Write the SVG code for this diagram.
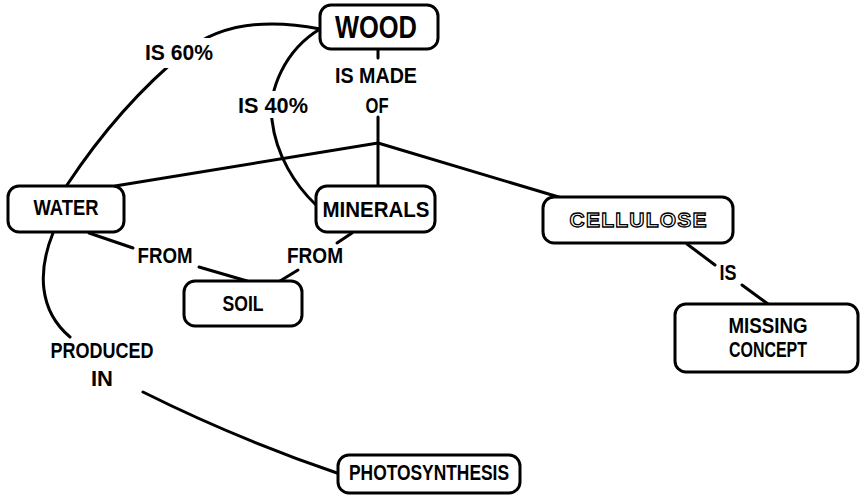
<svg xmlns="http://www.w3.org/2000/svg" width="860" height="498" viewBox="0 0 860 498">
  <style>
    .box { fill: #fff; stroke: #000; stroke-width: 3; }
    .link { fill: none; stroke: #000; stroke-width: 3; stroke-linecap: round; }
    .t { font-family: "Liberation Sans", Arial, sans-serif; font-weight: bold; font-size: 22px; fill: #000; text-anchor: middle; }
    .big { font-size: 31px; }
    .hollow { fill: #fff; stroke: #000; stroke-width: 1.3; font-size: 21px; }
    .knock { fill: #fff; }
  </style>
  <rect width="860" height="498" fill="#fff"/>

  <!-- connectors -->
  <g id="connectors">
    <path class="link" d="M378,49 V58"/>
    <path class="link" d="M378,117 V186"/>
    <path class="link" d="M378,143 L115,186"/>
    <path class="link" d="M378,143 L562,198"/>
    <path class="link" d="M67,185 Q120,105 185,52 Q234,12 320,29"/>
    <path class="link" d="M320,29 C285,50 268,90 272,120 C276,155 295,185 316,205"/>
    <path class="link" d="M89,233 L133,248"/>
    <path class="link" d="M199,267 L247,281"/>
    <path class="link" d="M352,233 L337,243"/>
    <path class="link" d="M298,270 L280,281"/>
    <path class="link" d="M687,244 L715,265"/>
    <path class="link" d="M742,285 L768,304"/>
    <path class="link" d="M53,233 C38,270 38,310 70,337"/>
    <path class="link" d="M143,392 Q235,438 337,473"/>
  </g>

  <!-- link labels -->
  <g id="label-is-made-of">
    <text class="t" x="376" y="83" font-size="24" textLength="82" lengthAdjust="spacingAndGlyphs">IS MADE</text>
    <text class="t" x="377" y="113" font-size="24" textLength="23" lengthAdjust="spacingAndGlyphs">OF</text>
  </g>
  <g id="label-is-60">
    <rect class="knock" x="140" y="38" width="80" height="30"/>
    <text class="t" x="179" y="60" textLength="68" lengthAdjust="spacingAndGlyphs">IS 60%</text>
  </g>
  <g id="label-is-40">
    <rect class="knock" x="236" y="91" width="76" height="27"/>
    <text class="t" x="273" y="113" textLength="70" lengthAdjust="spacingAndGlyphs">IS 40%</text>
  </g>
  <g id="label-from-water">
    <text class="t" x="165" y="263" textLength="55" lengthAdjust="spacingAndGlyphs">FROM</text>
  </g>
  <g id="label-from-minerals">
    <text class="t" x="315" y="263" textLength="56" lengthAdjust="spacingAndGlyphs">FROM</text>
  </g>
  <g id="label-is">
    <text class="t" x="728" y="280" textLength="17" lengthAdjust="spacingAndGlyphs">IS</text>
  </g>
  <g id="label-produced-in">
    <text class="t" x="102" y="358" textLength="103" lengthAdjust="spacingAndGlyphs">PRODUCED</text>
    <text class="t" x="102" y="386" textLength="22" lengthAdjust="spacingAndGlyphs">IN</text>
  </g>

  <!-- concept nodes -->
  <g id="node-wood">
    <rect class="box" x="320" y="5" width="118" height="44" rx="11"/>
    <text class="t big" x="376" y="38" textLength="82" lengthAdjust="spacingAndGlyphs">WOOD</text>
  </g>
  <g id="node-water">
    <rect class="box" x="8" y="186" width="116" height="46" rx="11"/>
    <text class="t" x="66" y="215" textLength="65" lengthAdjust="spacingAndGlyphs">WATER</text>
  </g>
  <g id="node-minerals">
    <rect class="box" x="316" y="186" width="119" height="46" rx="11"/>
    <text class="t" x="376" y="217" textLength="107" lengthAdjust="spacingAndGlyphs">MINERALS</text>
  </g>
  <g id="node-soil">
    <rect class="box" x="184" y="281" width="118" height="45" rx="11"/>
    <text class="t" x="243" y="311" textLength="41" lengthAdjust="spacingAndGlyphs">SOIL</text>
  </g>
  <g id="node-cellulose">
    <rect class="box" x="543" y="197" width="190" height="46" rx="11"/>
    <text class="t hollow" x="638" y="227" textLength="137" lengthAdjust="spacing">CELLULOSE</text>
  </g>
  <g id="node-missing-concept">
    <rect class="box" x="675" y="304" width="183" height="68" rx="11"/>
    <text class="t" x="768" y="333" textLength="79" lengthAdjust="spacingAndGlyphs">MISSING</text>
    <text class="t" x="768" y="357" textLength="78" lengthAdjust="spacingAndGlyphs">CONCEPT</text>
  </g>
  <g id="node-photosynthesis">
    <rect class="box" x="338" y="455" width="182" height="38" rx="11"/>
    <text class="t" x="429" y="480" textLength="160" lengthAdjust="spacingAndGlyphs">PHOTOSYNTHESIS</text>
  </g>
</svg>
